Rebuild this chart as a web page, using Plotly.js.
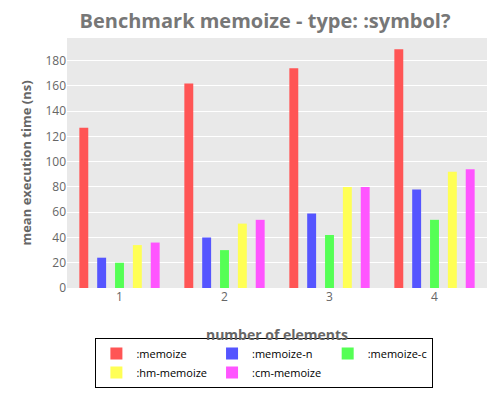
<!DOCTYPE html>
<html>
<head>
<script src="https://cdn.plot.ly/plotly-3.0.1.min.js"></script>
</head>
<body style="margin:0">
<div id="chart" style="width:500px;height:400px"></div>
<script>
var categories = ["1", "2", "3", "4"]
var seriesNames = [":memoize", ":memoize-n", ":memoize-c", ":hm-memoize", ":cm-memoize"]
var memoize = [127, 162, 174, 189]
var memoizeN = [24, 40, 59, 78]
var memoizeC = [20, 30, 42, 54]
var hmMemoize = [34, 51, 80, 92]
var cmMemoize = [36, 54, 80, 94]
var colors = ["#ff5555", "#5555ff", "#55ff55", "#ffff55", "#ff55ff"]

var values = [memoize, memoizeN, memoizeC, hmMemoize, cmMemoize]
var dane = []
for (var i = 0; i < values.length; i++) {
	dane.push({
		type: 'bar',
		name: seriesNames[i],
		x: categories,
		y: values[i],
		marker: {color: colors[i]}
	})
}

var layout = {
	width: 500, height: 400,
	font: {family: "Open Sans", size: 12, color: "#666"},
	title: {text: "Benchmark memoize - type: :symbol?", font: {size: 20, color: "#777", weight: "bold"}, x: 0.53, y: 0.965},
	plot_bgcolor: "#e9e9e9",
	paper_bgcolor: "#fff",
	margin: {l: 67, r: 13, t: 38, b: 84},
	bargap: 0.15,
	bargroupgap: 0.5,
	xaxis: {title: {text: "number of elements", font: {size: 14, color: "#666", weight: "bold"}}, showgrid: false},
	yaxis: {title: {text: "mean execution time (ns)", font: {size: 13, color: "#666", weight: "bold"}}, range: [0, 198], dtick: 20, gridcolor: "#fff", zeroline: false},
	legend: {orientation: "h", x: 0.47, xanchor: "center", y: -0.2, yanchor: "top", bordercolor: "#000", borderwidth: 1,
		font: {color: "#000", size: 11}, itemwidth: 20, entrywidthmode: "pixels", tracegroupgap: 0}
}

Plotly.newPlot("chart", dane, layout, {displayModeBar: false})
</script>
</body>
</html>
